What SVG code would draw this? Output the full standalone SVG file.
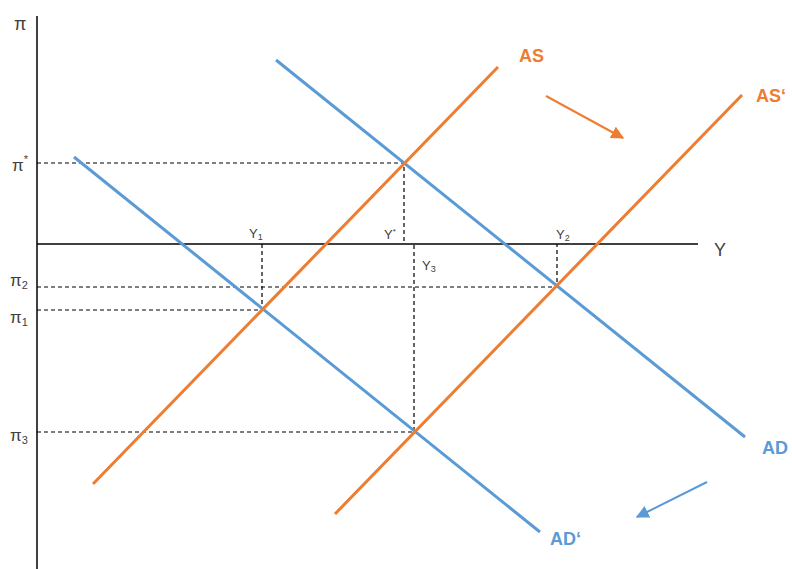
<svg xmlns="http://www.w3.org/2000/svg" width="792" height="569" viewBox="0 0 792 569">
<defs>
<style>
.axis{stroke:#000;stroke-width:1.5;fill:none}
.dash{stroke:#000;stroke-width:1.2;stroke-dasharray:4,3;fill:none}
.as{stroke:#ED7D31;stroke-width:3;fill:none}
.ad{stroke:#5B9BD5;stroke-width:3;fill:none}
.lbl{font-family:"Liberation Sans",Arial,sans-serif;fill:#404040}
.sub{font-size:11px}
.cl{font-family:"Liberation Sans",Arial,sans-serif;font-weight:bold;font-size:18px}
</style>
<marker id="ao" viewBox="0 0 10 10" refX="9" refY="5" markerWidth="6.5" markerHeight="6.5" orient="auto"><path d="M0,0 L10,5 L0,10 z" fill="#ED7D31"/></marker>
<marker id="ab" viewBox="0 0 10 10" refX="9" refY="5" markerWidth="6.5" markerHeight="6.5" orient="auto"><path d="M0,0 L10,5 L0,10 z" fill="#5B9BD5"/></marker>
</defs>
<rect width="792" height="569" fill="#fff"/>
<g id="axes">
<line class="axis" x1="37" y1="16" x2="37" y2="569"/>
<line class="axis" x1="37" y1="244" x2="698" y2="244"/>
<text class="lbl" x="14" y="30" font-size="18">π</text>
<text class="lbl" x="714" y="256" font-size="18">Y</text>
</g>
<g id="guides">
<polyline class="dash" points="37,163 404,163 404,244"/>
<polyline class="dash" points="37,310 262,310 262,244"/>
<polyline class="dash" points="37,287 557,287 557,244"/>
<polyline class="dash" points="37,432 414,432 414,244"/>
</g>
<g id="tick-labels">
<text class="lbl" x="12" y="171" font-size="17">π<tspan class="sub" dy="-8">*</tspan></text>
<text class="lbl" x="10" y="286" font-size="17">π<tspan class="sub" dy="3">2</tspan></text>
<text class="lbl" x="10" y="323" font-size="17">π<tspan class="sub" dy="3">1</tspan></text>
<text class="lbl" x="10" y="441" font-size="17">π<tspan class="sub" dy="3">3</tspan></text>
<text class="lbl" x="249" y="238" font-size="13">Y<tspan font-size="9" dy="2">1</tspan></text>
<text class="lbl" x="384" y="239" font-size="13">Y<tspan font-size="8" dy="-5">*</tspan></text>
<text class="lbl" x="422" y="270" font-size="13">Y<tspan font-size="9" dy="2">3</tspan></text>
<text class="lbl" x="556" y="239" font-size="13">Y<tspan font-size="9" dy="2">2</tspan></text>
</g>
<g id="connectors">
<line class="ad" x1="276" y1="60" x2="745" y2="437"/>
<line class="ad" x1="74" y1="157" x2="540" y2="532"/>
<line class="as" x1="93" y1="484" x2="498" y2="67"/>
<line class="as" x1="335" y1="514" x2="742" y2="95"/>
<line stroke="#ED7D31" stroke-width="2" x1="546" y1="96" x2="623" y2="138" marker-end="url(#ao)"/>
<line stroke="#5B9BD5" stroke-width="2" x1="707" y1="482" x2="637" y2="517" marker-end="url(#ab)"/>
</g>
<g id="AS"><text class="cl" x="519" y="62" fill="#ED7D31">AS</text></g>
<g id="AS2"><text class="cl" x="756" y="102" fill="#ED7D31">AS‘</text></g>
<g id="AD"><text class="cl" x="762" y="454" fill="#5B9BD5">AD</text></g>
<g id="AD2"><text class="cl" x="550" y="545" fill="#5B9BD5">AD‘</text></g>
</svg>
